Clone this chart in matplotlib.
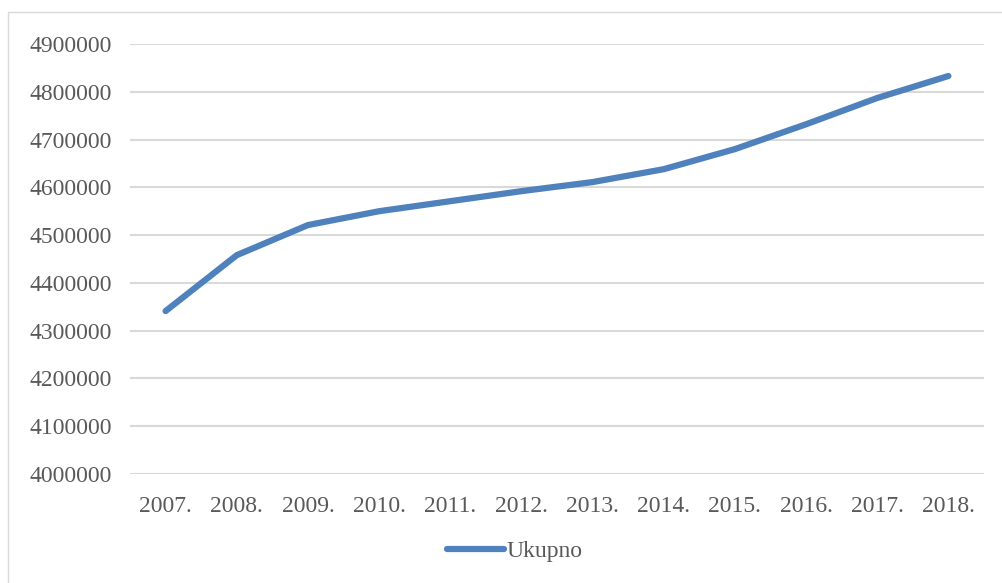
import matplotlib.pyplot as plt
from matplotlib.patches import Rectangle

years = ["2007.", "2008.", "2009.", "2010.", "2011.", "2012.",
         "2013.", "2014.", "2015.", "2016.", "2017.", "2018."]
ukupno = [4341000, 4458000, 4521000, 4550000, 4571000, 4592000,
          4611000, 4638000, 4680000, 4732000, 4787000, 4833000]
yticks = list(range(4000000, 4900001, 100000))

plt.rcParams['font.family'] = ['Liberation Serif', 'DejaVu Serif']

W, H = 1002, 583
fig = plt.figure(figsize=(W / 100, H / 100), dpi=100)
ax = fig.add_axes([130 / W, 1 - 474 / H, (984 - 130) / W, (474 - 44) / H])

line, = ax.plot(range(len(years)), ukupno, color='#4f81bd', lw=4.5,
                solid_capstyle='round', solid_joinstyle='round', label='Ukupno')

ax.set_xlim(-0.5, len(years) - 0.5)
ax.set_ylim(yticks[0], yticks[-1])
ax.set_xticks(range(len(years)))
ax.set_xticklabels(years)
ax.set_yticks(yticks)
ax.set_yticklabels([str(v) for v in yticks])
ax.tick_params(length=0, labelsize=17, colors='#595959')
ax.tick_params(axis='x', pad=16)
ax.tick_params(axis='y', pad=13)
ax.grid(axis='y', color='#d9d9d9', lw=1.5)
ax.set_axisbelow(True)
for s in ax.spines.values():
    s.set_visible(False)

fig.legend(handles=[line], loc='center', bbox_to_anchor=(0.5 + 14 / W, 1 - 551 / H),
           frameon=False, fontsize=17, handlelength=2.4, handletextpad=0.1,
           labelcolor='#595959')

fig.patches.append(Rectangle((8 / W, -0.1), 1.2, 1 - 12 / H + 0.1,
                             transform=fig.transFigure, fill=False,
                             edgecolor='#d9d9d9', lw=1))

fig.savefig('out.png', dpi=100)
